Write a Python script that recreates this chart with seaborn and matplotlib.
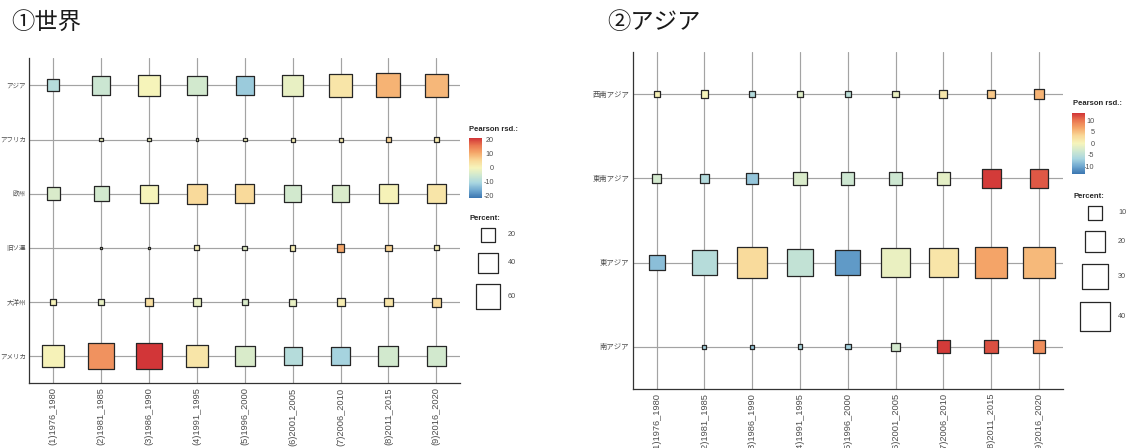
import numpy as np
import pandas as pd
import matplotlib
matplotlib.use("Agg")
import matplotlib.pyplot as plt
from matplotlib.colors import LinearSegmentedColormap, Normalize
from matplotlib.cm import ScalarMappable
import seaborn as sns

# ---------------------------------------------------------------- data
periods = ["(1)1976_1980", "(2)1981_1985", "(3)1986_1990", "(4)1991_1995",
           "(5)1996_2000", "(6)2001_2005", "(7)2006_2010", "(8)2011_2015",
           "(9)2016_2020"]

world_regions = ["アジア", "アフリカ", "欧州", "旧ソ連", "大洋州", "アメリカ"]
world_percent = [
    [14.7, 34.2, 45.1, 38.2, 33.2, 42.0, 49.6, 57.5, 55.7],
    [None, 1.4, 1.4, 0.7, 1.4, 1.6, 1.6, 2.9, 1.9],
    [18.0, 23.1, 33.2, 38.2, 36.7, 27.3, 28.6, 34.2, 35.6],
    [None, 0.35, 0.35, 2.6, 2.2, 2.9, 5.5, 4.1, 2.6],
    [3.7, 3.7, 6.0, 5.5, 4.1, 5.0, 6.6, 7.1, 8.2],
    [48.0, 67.4, 67.4, 48.0, 40.8, 33.2, 34.2, 39.7, 38.2],
]
world_resid = [
    [-9, -6, 0, -5, -12, -2, 3, 9.5, 9],
    [None, -1, -1, -1, 0, 1, 2, 6, 2],
    [-4, -5, 0, 5, 5, -5, -4, 0.5, 3],
    [None, -1, -1, 1, -3, 1, 11, 6, 1],
    [0.5, -2, 4, -2, -4, -2, 1.5, 3, 5],
    [0.5, 13, 21, 3, -4, -9, -11, -5, -5],
]

asia_regions = ["西南アジア", "東南アジア", "東アジア", "南アジア"]
asia_percent = [
    [1.6, 2.45, 1.4, 2.0, 1.4, 2.0, 3.0, 3.4, 4.3],
    [3.4, 4.05, 6.1, 8.1, 7.6, 8.1, 8.5, 16.2, 16.8],
    [11.7, 29.5, 42.9, 33.8, 28.8, 37.3, 41.2, 47.2, 45.9],
    [None, 0.8, 0.8, 1.1, 1.4, 3.2, 8.5, 8.5, 7.6],
]
asia_resid = [
    [0.5, 0, -6, -2, -5, -1, 1.5, 4.5, 6],
    [-3, -6, -8, -2.5, -3.5, -3.5, -1.5, 13, 11.5],
    [-8.5, -5.5, 3, -4.5, -11, -1, 1.8, 7, 5.5],
    [None, -7, -8, -6.5, -7, -3, 13, 12, 8.5],
]

world_size_keys = [20, 40, 60]
asia_size_keys = [10, 20, 30, 40]
world_resid_ticks = [20, 10, 0, -10, -20]
asia_resid_ticks = [10, 5, 0, -5, -10]

# ---------------------------------------------------------------- style
sns.set_theme(style="white")
plt.rcParams["font.family"] = ["Liberation Sans", "Noto Sans CJK JP"]
plt.rcParams["axes.unicode_minus"] = False

W, H = 1128, 448
fig = plt.figure(figsize=(W / 100, H / 100), dpi=100)

cmap = LinearSegmentedColormap.from_list(
    "resid",
    ["#3a75b0", "#6fa8d0", "#a9d6e0", "#cfe8d0", "#f6f4bb",
     "#f9d898", "#f5a86a", "#ea7650", "#d03236"])

EDGE = "#262626"
TXT = "#4d4d4d"


def px_rect(x0, y0, x1, y1):
    """Figure-fraction rectangle from pixel corners (origin top-left)."""
    return [x0 / W, 1 - y1 / H, (x1 - x0) / W, (y1 - y0) / H]


def balloon(rect, regions, pct, resid, norm, k_area, vmax_pct, ysize):
    ax = fig.add_axes(rect)
    df = pd.DataFrame({
        "period": np.tile(periods, len(regions)),
        "region": np.repeat(regions, len(periods)),
        "percent": np.array(pct, dtype=float).ravel(),
        "resid": np.array(resid, dtype=float).ravel(),
    }).dropna()
    sns.scatterplot(data=df, x="period", y="region", size="percent",
                    hue="resid", sizes=(0, k_area * vmax_pct),
                    size_norm=(0, vmax_pct), palette=cmap, hue_norm=norm,
                    marker="s", edgecolor=EDGE, linewidth=0.9,
                    legend=False, ax=ax, zorder=3)
    ax.set_xlim(-0.5, len(periods) - 0.5)
    ax.set_ylim(len(regions) - 0.5, -0.5)
    ax.set_xlabel("")
    ax.set_ylabel("")
    ax.grid(True, color="#a3a3a3", linewidth=0.85)
    ax.set_axisbelow(True)
    for s in ("top", "right"):
        ax.spines[s].set_visible(False)
    for s in ("left", "bottom"):
        ax.spines[s].set_color("#333333")
        ax.spines[s].set_linewidth(0.9)
    ax.tick_params(axis="x", rotation=90, labelsize=6.7, length=0, pad=3,
                   labelcolor=TXT)
    ax.tick_params(axis="y", labelsize=ysize, length=0, pad=2.5,
                   labelcolor=TXT)
    return ax


def colorbar(rect, norm, ticks, pad):
    cax = fig.add_axes(rect)
    cb = fig.colorbar(ScalarMappable(norm=norm, cmap=cmap), cax=cax,
                      ticks=ticks)
    cb.outline.set_visible(False)
    cax.tick_params(which="both", direction="in", length=2.5, width=0.8,
                    colors="white", left=True, right=True, labelsize=5.2,
                    labelcolor=TXT, pad=pad)
    plt.setp(cax.get_yticklabels(), ha="right")
    return cax


# ---------------------------------------------------------------- panels
world_norm = Normalize(-21.5, 21.5)
asia_norm = Normalize(-13.5, 13.5)
K_WORLD, VMAX_WORLD = 5.2, 70
K_ASIA, VMAX_ASIA = 11.1, 50

balloon(px_rect(29.3, 58.3, 460.3, 383.3), world_regions, world_percent,
        world_resid, world_norm, K_WORLD, VMAX_WORLD, 4.7)
balloon(px_rect(632.7, 52, 1062.9, 388.8), asia_regions, asia_percent,
        asia_resid, asia_norm, K_ASIA, VMAX_ASIA, 5.3)

colorbar(px_rect(469, 137.7, 482, 198), world_norm, world_resid_ticks, 8.6)
colorbar(px_rect(1072, 112.7, 1085, 174), asia_norm, asia_resid_ticks, 6.8)

# ---------------------------------------------------------------- titles
fig.text(11 / W, 1 - 22.5 / H, "①世界", fontsize=16.8, va="center",
         ha="left", color="#1a1a1a", family=["Noto Sans CJK JP"])
fig.text(607 / W, 1 - 22.5 / H, "②アジア", fontsize=16.8, va="center",
         ha="left", color="#1a1a1a", family=["Noto Sans CJK JP"])

# ---------------------------------------------------------------- legends
lax = fig.add_axes([0, 0, 1, 1])
lax.set_xlim(0, W)
lax.set_ylim(H, 0)
lax.axis("off")


def size_legend(x_title, y_pct_title, y_rsd_title, x_key, x_lab, y_first,
                keys, k_area, vmax_pct):
    lax.text(x_title, y_rsd_title, "Pearson rsd.:", fontsize=5.5,
             fontweight="bold", va="center", ha="left", color="#262626")
    lax.text(x_title, y_pct_title, "Percent:", fontsize=5.5,
             fontweight="bold", va="center", ha="left", color="#262626")
    sides = [np.sqrt(k_area * v) / 0.72 + 1.25 for v in keys]
    ys = [y_first]
    for i in range(1, len(keys)):
        ys.append(ys[-1] + (sides[i - 1] + sides[i]) / 2 + 4 + 0.25 * sides[i])
    sns.scatterplot(x=[x_key] * len(keys), y=ys, size=keys,
                    sizes=(0, k_area * vmax_pct), size_norm=(0, vmax_pct),
                    marker="s", color="white", edgecolor=EDGE, linewidth=0.9,
                    legend=False, ax=lax)
    for v, y in zip(keys, ys):
        lax.text(x_lab, y, f"{v}", fontsize=5.2, va="center", ha="left",
                 color=TXT)


size_legend(469, 218, 129.3, 488, 508, 235, world_size_keys,
            K_WORLD, VMAX_WORLD)
size_legend(1073, 197, 103.3, 1095, 1118, 213, asia_size_keys,
            K_ASIA, VMAX_ASIA)

fig.savefig("out.png", dpi=100)
